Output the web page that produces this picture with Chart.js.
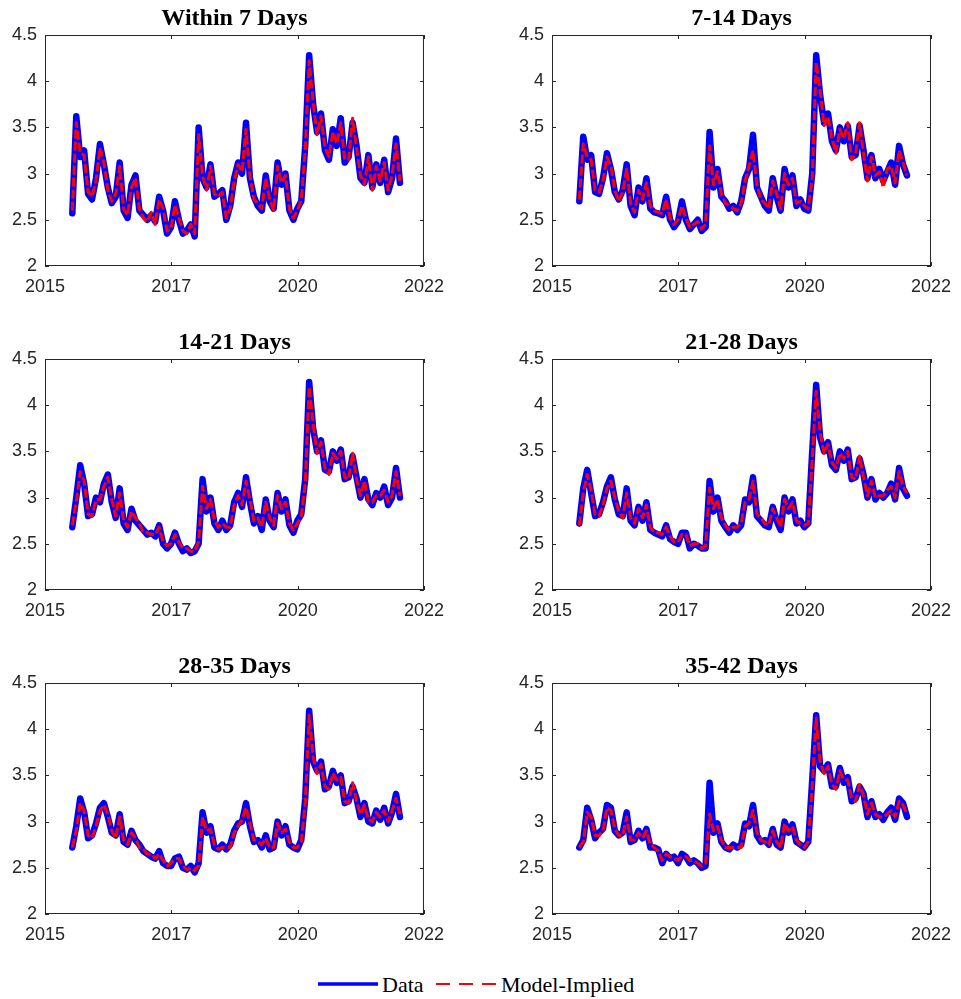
<!DOCTYPE html>
<html>
<head>
<meta charset="utf-8">
<script src="https://cdn.jsdelivr.net/npm/chart.js@4.4.1/dist/chart.umd.min.js"></script>
<style>
  body { margin: 0; background: #fff; width: 961px; height: 999px; position: relative; overflow: hidden; }
  .panel { position: absolute; }
  #legend { position: absolute; left: 0; top: 965px; }
</style>
</head>
<body>
<svg id="legend" width="961" height="34">
  <line x1="318" y1="19" x2="378" y2="19" stroke="#0000ff" stroke-width="3.5"/>
  <text x="382" y="27" font-family="Liberation Serif, serif" font-size="22" fill="#000">Data</text>
  <line x1="436" y1="19" x2="496" y2="19" stroke="#ff0000" stroke-width="2" stroke-dasharray="14 9"/>
  <text x="501" y="27" font-family="Liberation Serif, serif" font-size="22" fill="#000">Model-Implied</text>
</svg>
<script>
// tick labels on the shared x axis (4 evenly spaced ticks)
const tickLabels = ['2015', '2017', '2020', '2022'];
const titles = ['Within 7 Days', '7-14 Days', '14-21 Days', '21-28 Days', '28-35 Days', '35-42 Days'];

// series, one sample every ~4px
const data7 = [2.57,3.62,3.18,3.25,2.78,2.72,2.95,3.32,3.1,2.85,
  2.68,2.75,3.12,2.6,2.52,2.88,2.98,2.6,2.55,2.5,
  2.55,2.48,2.75,2.6,2.35,2.42,2.7,2.5,2.35,2.38,
  2.45,2.32,3.5,2.95,2.85,3.1,2.75,2.78,2.82,2.5,
  2.65,2.95,3.12,3.0,3.55,2.95,2.75,2.65,2.6,2.98,
  2.7,2.62,3.12,2.88,3.0,2.6,2.5,2.62,2.7,3.3,
  4.28,3.75,3.45,3.65,3.25,3.15,3.48,3.3,3.6,3.12,
  3.18,3.55,3.3,2.95,2.9,3.2,2.85,3.1,2.9,3.15,
  2.8,2.95,3.38,2.9];
const model7 = [2.6,3.55,3.22,3.2,2.8,2.75,2.92,3.28,3.12,2.82,
  2.7,2.78,3.08,2.62,2.55,2.85,2.95,2.62,2.52,2.48,
  2.58,2.45,2.72,2.62,2.38,2.4,2.66,2.52,2.38,2.35,
  2.45,2.35,3.42,2.98,2.82,3.08,2.78,2.75,2.8,2.52,
  2.62,2.92,3.1,3.02,3.48,2.98,2.72,2.68,2.62,2.95,
  2.72,2.6,3.08,2.9,2.98,2.62,2.52,2.6,2.72,3.25,
  4.22,3.78,3.42,3.62,3.28,3.18,3.45,3.32,3.55,3.15,
  3.15,3.6,3.28,2.98,2.88,3.18,2.82,3.08,2.92,3.12,
  2.82,2.98,3.32,2.92];

const data14 = [2.7,3.4,3.15,3.2,2.8,2.78,2.95,3.22,3.05,2.8,
  2.72,2.82,3.1,2.65,2.55,2.85,2.7,2.95,2.62,2.58,
  2.57,2.55,2.75,2.5,2.42,2.48,2.7,2.5,2.4,2.45,
  2.5,2.38,2.42,3.45,2.85,3.05,2.75,2.7,2.62,2.65,
  2.58,2.7,2.95,3.05,3.42,2.85,2.75,2.65,2.6,2.95,
  2.75,2.6,3.05,2.85,2.98,2.65,2.72,2.62,2.6,3.0,
  4.28,3.85,3.55,3.65,3.35,3.25,3.5,3.35,3.52,3.18,
  3.2,3.52,3.25,2.95,3.2,2.95,3.05,2.92,3.02,3.12,
  2.88,3.3,3.1,2.98];
const model14 = [2.72,3.32,3.18,3.15,2.82,2.8,2.92,3.18,3.08,2.82,
  2.7,2.8,3.05,2.68,2.58,2.82,2.72,2.9,2.65,2.6,
  2.58,2.57,2.72,2.52,2.45,2.5,2.65,2.52,2.42,2.45,
  2.48,2.4,2.45,3.3,2.88,3.02,2.78,2.68,2.65,2.62,
  2.6,2.68,2.92,3.08,3.25,2.88,2.72,2.68,2.62,2.92,
  2.78,2.62,3.0,2.88,2.95,2.68,2.7,2.65,2.62,2.95,
  4.2,3.9,3.52,3.62,3.38,3.22,3.48,3.38,3.55,3.15,
  3.22,3.55,3.22,2.92,3.18,2.98,3.02,2.85,3.05,3.08,
  2.9,3.25,3.12,2.98];

const data21 = [2.68,3.0,3.35,3.15,2.8,2.82,3.0,2.95,3.15,3.25,
  2.95,2.78,3.1,2.72,2.65,2.88,2.75,2.7,2.65,2.6,
  2.62,2.58,2.7,2.5,2.45,2.5,2.62,2.5,2.42,2.45,
  2.4,2.42,2.5,3.2,2.85,3.0,2.72,2.65,2.75,2.65,
  2.7,2.95,3.05,2.9,3.22,2.95,2.72,2.8,2.65,2.98,
  2.75,2.68,3.05,2.85,2.98,2.7,2.62,2.75,2.82,3.2,
  4.25,3.75,3.5,3.62,3.3,3.28,3.5,3.4,3.52,3.2,
  3.22,3.45,3.22,3.0,3.2,2.98,2.92,3.05,3.0,3.12,
  2.92,3.0,3.32,3.0];
const model21 = [2.7,2.95,3.28,3.18,2.82,2.8,2.98,2.98,3.12,3.22,
  2.98,2.8,3.05,2.75,2.68,2.85,2.78,2.72,2.62,2.62,
  2.6,2.6,2.68,2.52,2.48,2.5,2.6,2.52,2.45,2.45,
  2.42,2.42,2.52,3.12,2.88,2.98,2.75,2.68,2.72,2.68,
  2.68,2.92,3.02,2.92,3.18,2.98,2.75,2.78,2.68,2.95,
  2.78,2.7,3.02,2.88,2.95,2.72,2.65,2.72,2.8,3.15,
  4.2,3.8,3.48,3.6,3.32,3.25,3.48,3.42,3.5,3.22,
  3.2,3.48,3.2,3.02,3.18,2.95,2.95,3.02,3.02,3.08,
  2.95,3.02,3.28,3.02];

const data28 = [2.72,3.1,3.3,3.05,2.8,2.82,2.95,3.12,3.22,2.98,
  2.82,2.8,3.1,2.75,2.7,2.9,2.75,2.95,2.65,2.62,
  2.6,2.58,2.7,2.55,2.52,2.5,2.62,2.62,2.45,2.5,
  2.48,2.45,2.45,3.18,2.85,3.0,2.75,2.68,2.62,2.7,
  2.65,2.7,2.98,2.95,3.22,2.8,2.75,2.7,2.68,2.9,
  2.75,2.65,3.0,2.85,2.98,2.72,2.75,2.68,2.72,3.5,
  4.22,3.65,3.5,3.6,3.35,3.3,3.5,3.4,3.52,3.2,
  3.22,3.42,3.25,3.0,3.2,2.98,3.05,3.0,3.05,3.15,
  2.98,3.32,3.1,3.02];
const model28 = [2.7,3.05,3.25,3.08,2.82,2.8,2.92,3.1,3.18,3.0,
  2.85,2.78,3.05,2.78,2.72,2.88,2.78,2.92,2.68,2.62,
  2.62,2.6,2.68,2.58,2.52,2.52,2.6,2.6,2.48,2.5,
  2.5,2.45,2.48,3.1,2.88,2.98,2.78,2.7,2.65,2.68,
  2.68,2.72,2.95,2.98,3.18,2.82,2.78,2.72,2.7,2.88,
  2.78,2.68,2.98,2.88,2.95,2.75,2.72,2.7,2.72,3.42,
  4.15,3.7,3.48,3.58,3.38,3.32,3.48,3.42,3.5,3.22,
  3.2,3.45,3.22,3.02,3.18,3.0,3.02,3.02,3.08,3.12,
  3.0,3.28,3.12,3.05];

const data35 = [2.72,2.95,3.25,3.1,2.82,2.85,2.98,3.15,3.2,3.05,
  2.88,2.85,3.08,2.78,2.75,2.9,2.8,2.75,2.68,2.65,
  2.62,2.6,2.68,2.55,2.52,2.52,2.6,2.62,2.5,2.48,
  2.52,2.45,2.55,3.1,2.88,2.95,2.72,2.7,2.75,2.7,
  2.75,2.9,2.98,3.0,3.2,2.95,2.78,2.8,2.72,2.85,
  2.7,2.72,3.0,2.85,2.95,2.75,2.72,2.7,2.8,3.25,
  4.2,3.65,3.55,3.65,3.35,3.38,3.55,3.42,3.5,3.2,
  3.22,3.38,3.25,3.05,3.2,3.0,2.98,3.12,3.02,3.15,
  2.98,3.1,3.3,3.05];
const model35 = [2.72,2.9,3.2,3.12,2.85,2.82,2.95,3.12,3.18,3.08,
  2.9,2.82,3.05,2.8,2.75,2.88,2.82,2.72,2.7,2.65,
  2.65,2.6,2.65,2.58,2.52,2.55,2.6,2.6,2.52,2.48,
  2.5,2.47,2.52,3.05,2.9,2.92,2.75,2.7,2.72,2.72,
  2.72,2.88,2.95,3.02,3.15,2.98,2.8,2.78,2.75,2.82,
  2.72,2.72,2.98,2.88,2.92,2.78,2.72,2.72,2.78,3.2,
  4.15,3.7,3.52,3.62,3.38,3.35,3.52,3.45,3.48,3.22,
  3.2,3.42,3.22,3.08,3.18,3.02,3.0,3.1,3.05,3.12,
  3.0,3.12,3.25,3.08];

const data42 = [2.72,2.8,3.15,3.02,2.82,2.88,2.92,3.18,3.15,2.9,
  2.85,2.88,3.1,2.78,2.8,2.9,2.82,2.92,2.72,2.72,
  2.7,2.55,2.65,2.6,2.62,2.55,2.65,2.62,2.55,2.58,
  2.55,2.5,2.52,3.42,2.88,2.98,2.78,2.72,2.7,2.75,
  2.72,2.75,2.98,2.95,3.18,2.85,2.78,2.8,2.75,2.92,
  2.75,2.72,3.0,2.88,2.97,2.78,2.75,2.72,2.78,3.45,
  4.15,3.6,3.55,3.62,3.38,3.38,3.58,3.42,3.48,3.22,
  3.25,3.38,3.3,3.05,3.22,3.05,3.08,3.02,3.1,3.15,
  3.02,3.25,3.2,3.05];
const model42 = [2.72,2.78,3.1,3.05,2.85,2.85,2.9,3.15,3.12,2.92,
  2.85,2.85,3.05,2.8,2.8,2.88,2.82,2.9,2.75,2.72,
  2.68,2.58,2.65,2.62,2.6,2.58,2.62,2.62,2.58,2.58,
  2.55,2.52,2.55,3.08,2.9,2.95,2.8,2.72,2.72,2.72,
  2.72,2.72,2.95,2.98,3.12,2.88,2.8,2.78,2.75,2.9,
  2.78,2.72,2.98,2.9,2.95,2.8,2.75,2.72,2.78,3.38,
  4.12,3.65,3.52,3.6,3.4,3.35,3.55,3.45,3.45,3.25,
  3.22,3.4,3.28,3.08,3.2,3.08,3.05,3.05,3.08,3.12,
  3.05,3.22,3.18,3.08];

const dataSets = [data7, data14, data21, data28, data35, data42];
const modelSets = [model7, model14, model21, model28, model35, model42];

// plot rectangles [left, top, width, height] in page pixels
const boxes = [[45,35,384,231],[552,35,384,231],[45,359,384,231],[552,359,384,231],[45,683,384,231],[552,683,384,231]];

// x axis in sample units: axis spans 96 samples, first sample sits ~7 in
const xMin = -83 / 12, xMax = xMin + 96;
const xTickPos = [0, 1, 2, 3].map(k => xMin + k * 32);

const toXY = arr => arr.map((v, i) => ({ x: i, y: v }));

const axisColor = '#262626';
const boxPlugin = {
  id: 'matlabBox',
  beforeDatasetsDraw(chart) {
    const { ctx, chartArea: a, scales: { x, y } } = chart;
    ctx.save();
    ctx.strokeStyle = axisColor; ctx.lineWidth = 1;
    ctx.strokeRect(a.left + 0.5, a.top + 0.5, a.right - a.left - 1, a.bottom - a.top - 1);
    ctx.beginPath();
    y.ticks.forEach(t => {
      let py = Math.round(y.getPixelForValue(t.value)) + 0.5;
      ctx.moveTo(a.left, py); ctx.lineTo(a.left + 4, py);
      ctx.moveTo(a.right, py); ctx.lineTo(a.right - 4, py);
    });
    x.ticks.forEach(t => {
      let px = Math.round(x.getPixelForValue(t.value)) + 0.5;
      ctx.moveTo(px, a.bottom); ctx.lineTo(px, a.bottom - 4);
      ctx.moveTo(px, a.top); ctx.lineTo(px, a.top + 4);
    });
    ctx.stroke();
    ctx.fillStyle = '#000';
    ctx.font = 'bold 24px "Liberation Serif", serif';
    ctx.textAlign = 'center'; ctx.textBaseline = 'alphabetic';
    ctx.fillText(chart.options.plugins.matlabBox.title, (a.left + a.right) / 2, a.top - 10);
    ctx.restore();
  }
};

boxes.forEach((b, p) => {
  let div = document.createElement('div');
  div.className = 'panel';
  div.style.left = (b[0] - 60) + 'px';
  div.style.top = (b[1] - 40) + 'px';
  let cv = document.createElement('canvas');
  cv.width = b[2] + 85; cv.height = b[3] + 70;
  div.appendChild(cv);
  document.body.appendChild(div);

  new Chart(cv.getContext('2d'), {
    type: 'line',
    data: { datasets: [
      { label: 'Data', data: toXY(dataSets[p]), order: 2, borderColor: '#0000ff', borderWidth: 6.5, pointRadius: 0, tension: 0, borderJoinStyle: 'round', borderCapStyle: 'round' },
      { label: 'Model-Implied', data: toXY(modelSets[p]), order: 1, borderColor: '#ff0000', borderWidth: 3, borderDash: [9, 3], pointRadius: 0, tension: 0, borderJoinStyle: 'round' }
    ]},
    options: {
      responsive: false, animation: false, events: [],
      layout: { padding: { top: 40, right: 25, left: 0, bottom: 0 } },
      plugins: { legend: { display: false }, tooltip: { enabled: false }, matlabBox: { title: titles[p] } },
      scales: {
        x: {
          type: 'linear', min: xMin, max: xMax,
          grid: { display: false, drawTicks: false }, border: { display: false },
          afterBuildTicks: s => { s.ticks = xTickPos.map(v => ({ value: v })); },
          afterFit: s => { s.height = 30; },
          ticks: { autoSkip: false, maxRotation: 0, padding: 10, color: axisColor,
                   font: { family: '"Liberation Sans", Arial, sans-serif', size: 18 },
                   callback: (v, i) => tickLabels[i] }
        },
        y: {
          min: 2, max: 4.5,
          grid: { display: false, drawTicks: false }, border: { display: false },
          afterFit: s => { s.width = 60; },
          ticks: { stepSize: 0.5, padding: 8, color: axisColor,
                   font: { family: '"Liberation Sans", Arial, sans-serif', size: 18 },
                   callback: v => String(v) }
        }
      }
    },
    plugins: [boxPlugin]
  });
});
</script>
</body>
</html>
